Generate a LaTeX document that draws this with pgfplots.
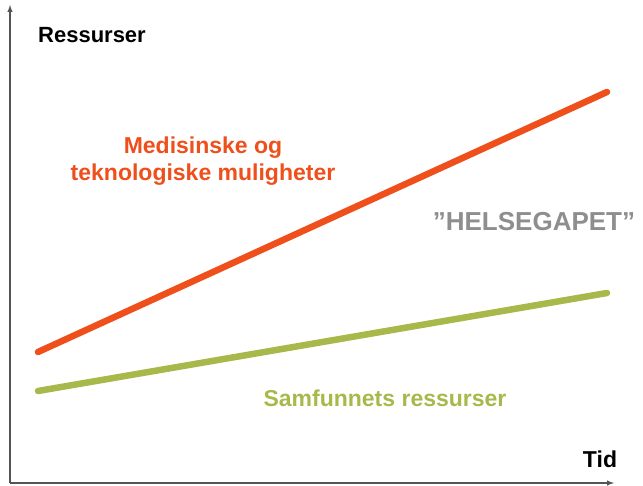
\documentclass[border=0pt]{standalone}
\usepackage{pgfplots}
\pgfplotsset{compat=1.18}
\usepackage{fontspec}
\setmainfont{Liberation Sans}
\definecolor{redl}{HTML}{EE4F1B}
\definecolor{greenl}{HTML}{A9B84B}
\definecolor{grayt}{HTML}{8E8E8E}
\definecolor{axc}{HTML}{555555}
\begin{document}
\begin{tikzpicture}
\begin{axis}[
  scale only axis, width=604pt, height=478pt,
  xmin=0, xmax=604, ymin=0, ymax=478,
  axis lines=left, axis line style={-latex, line width=1.4pt, axc},
  xtick=\empty, ytick=\empty, clip=false,
]
\path (axis cs:-10,-3) rectangle (axis cs:633,483);
\addplot[redl, line width=6.5pt, line cap=round] coordinates {(28,131) (597,391)};
\addplot[greenl, line width=6.5pt, line cap=round] coordinates {(28,92) (597,190)};
\node[font=\fontsize{22}{26}\selectfont\bfseries] at (axis cs:82,448) {Ressurser};
\node[font=\fontsize{23}{27}\selectfont\bfseries, text=redl, align=center] at (axis cs:193,322) {Medisinske og\\teknologiske muligheter};
\node[font=\fontsize{26}{30}\selectfont\bfseries, text=grayt] at (axis cs:524,261) {”HELSEGAPET”};
\node[font=\fontsize{23}{27}\selectfont\bfseries, text=greenl] at (axis cs:375,85) {Samfunnets ressurser};
\node[font=\fontsize{23}{27}\selectfont\bfseries] at (axis cs:590,24) {Tid};
\end{axis}
\end{tikzpicture}
\end{document}
